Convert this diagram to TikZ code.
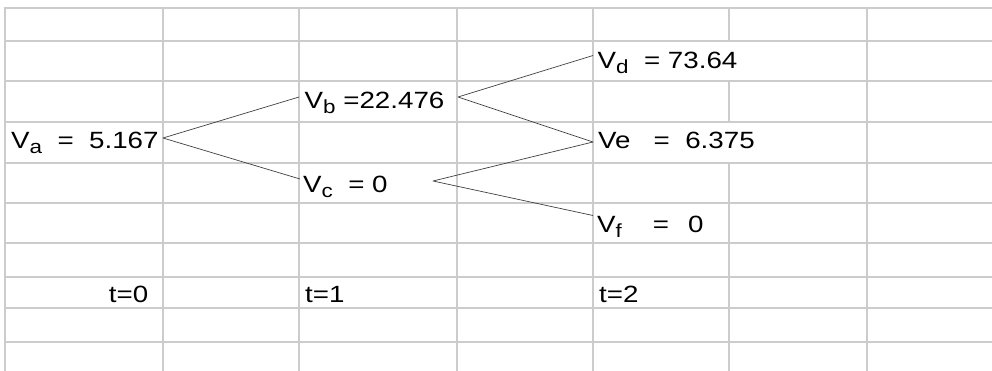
\documentclass[tikz,border=0pt]{standalone}
\usepackage{fontspec}
\setmainfont{Liberation Sans}[FakeStretch=1.18]
\usepackage{tikz}
\definecolor{gridgray}{RGB}{204,204,204}
\newcommand{\lowsub}[1]{\raisebox{-5pt}{\fontsize{19}{19}\selectfont #1}}

\begin{document}
\begin{tikzpicture}[x=1pt,y=-1pt,line join=round,
  cellline/.style={draw=gridgray,line width=2.4pt,line cap=rect},
  branch/.style={draw=black!75,line width=0.7pt},
  cell/.style={inner sep=0pt,font=\fontsize{23.5}{26}\selectfont}]
\useasboundingbox (0,0) rectangle (992,370);
% spreadsheet grid
\foreach \y in {8,41,81,122,163,203,243,277,308,342}
  \draw[cellline] (5,\y) -- (992,\y);
\foreach \x in {5,163,299,457,593,867}
  \draw[cellline] (\x,8) -- (\x,370);
% column G is hidden behind the overflowing text in rows 2 and 4
\draw[cellline] (729,8) -- (729,41);
\draw[cellline] (729,81) -- (729,122);
\draw[cellline] (729,163) -- (729,370);
% tree values
\node[cell,anchor=base west] (va) at (11,148) {V\lowsub{a}\ \ =\ \ 5.167};
\node[cell,anchor=base west] (vb) at (304.5,108) {V\lowsub{b} =22.476};
\node[cell,anchor=base west] (vc) at (303,192) {V\lowsub{c}\ \ = 0};
\node[cell,anchor=base west] (vd) at (597.5,68) {V\lowsub{d}\ \ = 73.64};
\node[cell,anchor=base west] (ve) at (598,148) {Ve\ \ \ =\ \ 6.375};
\node[cell,anchor=base west] (vf) at (597,232) {V\lowsub{f}\ \ \ \ =\ \ \,0};
% time labels
\node[cell,anchor=base east] (t0) at (148.5,302) {t=0};
\node[cell,anchor=base west] (t1) at (305,302) {t=1};
\node[cell,anchor=base west] (t2) at (599,302) {t=2};
% branch ends
\coordinate (va-out) at (163,138);
\coordinate (vb-in) at (299,97);
\coordinate (vb-out) at (458,97);
\coordinate (vc-in) at (300,179);
\coordinate (vc-out) at (433,181);
\coordinate (vd-in) at (593,55.5);
\coordinate (ve-in) at (593,142);
\coordinate (vf-in) at (593,215.5);
% branches
\draw[branch] (vb-in) -- (va-out) -- (vc-in);
\draw[branch] (vd-in) -- (vb-out) -- (ve-in);
\draw[branch] (ve-in) -- (vc-out) -- (vf-in);
\end{tikzpicture}
\end{document}
